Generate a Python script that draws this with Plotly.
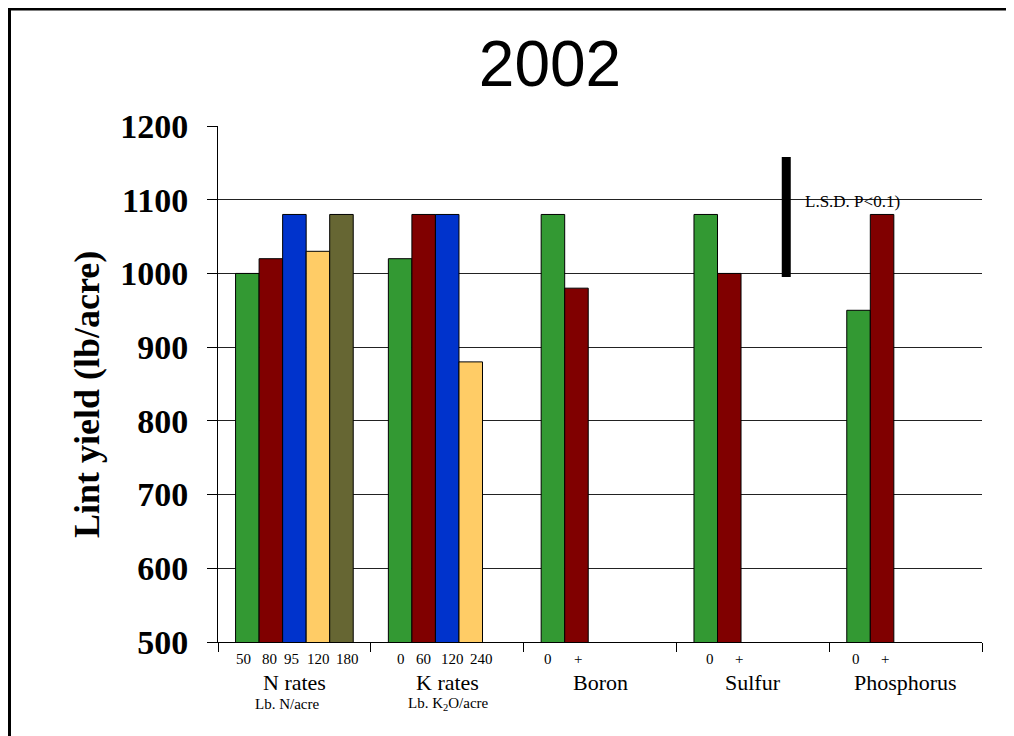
import plotly.graph_objects as go

categories = ["N rates", "K rates", "Boron", "Sulfur", "Phosphorus"]
series_names = ["Rate 1", "Rate 2", "Rate 3", "Rate 4", "Rate 5"]
series1 = [1000, 1020, 1080, 1080, 950]
series2 = [1020, 1080, 980, 1000, 1080]
series3 = [1080, 1080, None, None, None]
series4 = [1030, 880, None, None, None]
series5 = [1080, None, None, None, None]
colors = ["#339933", "#800000", "#0033CC", "#FFCC66", "#666633"]

rate_labels = ["50", "80", "95", "120", "180", "0", "60", "120", "240",
               "0", "+", "0", "+", "0", "+"]
sub_labels = ["Lb. N/acre", "Lb. K<sub>2</sub>O/acre"]
lsd_low, lsd_high = 995, 1158
lsd_label = "L.S.D. P<0.1)"
title_text = "2002"
y_title = "Lint yield (lb/acre)"

# label positions (category index units)
rate_label_x = [-0.33, -0.16, -0.016, 0.16, 0.35, 0.696, 0.846, 1.036, 1.225,
                1.657, 1.853, 2.722, 2.912, 3.676, 3.866]
cat_label_x = [0.003, 1.0, 2.0, 3.0, 4.0]
sub_label_x = [-0.05, 1.01]

serif = "Liberation Serif"

fig = go.Figure()
for name, vals, col in zip(series_names, [series1, series2, series3, series4, series5], colors):
    fig.add_trace(go.Bar(x=categories, y=vals, name=name, marker_color=col,
                         marker_line_color="black", marker_line_width=1))

OFF = 8  # page body margin
W, H = 1006, 728
L, R, T, B = 218 - OFF, 32, 126 - OFF, 94
pw, ph = W - L - R, H - T - B

def py(page_pix):
    return (H - B - (page_pix - OFF)) / ph

def px(page_pix):
    return ((page_pix - OFF) - L) / pw

annotations = []
for lab, xx in zip(rate_labels, rate_label_x):
    annotations.append(dict(x=xx, y=py(659), xref="x", yref="paper", text=lab,
                            showarrow=False, xanchor="center", yanchor="middle",
                            font=dict(family=serif, size=15, color="black")))
for lab, xx in zip(categories, cat_label_x):
    annotations.append(dict(x=xx, y=py(682), xref="x", yref="paper", text=lab,
                            showarrow=False, xanchor="center", yanchor="middle",
                            font=dict(family=serif, size=22, color="black")))
for lab, xx in zip(sub_labels, sub_label_x):
    annotations.append(dict(x=xx, y=py(704), xref="x", yref="paper", text=lab,
                            showarrow=False, xanchor="center", yanchor="middle",
                            font=dict(family=serif, size=15, color="black")))
annotations.append(dict(x=3.33, y=1097, xref="x", yref="y", text=lsd_label,
                        showarrow=False, xanchor="left", yanchor="middle",
                        font=dict(family=serif, size=17, color="black")))
annotations.append(dict(x=px(87), y=py(395), xref="paper", yref="paper", text=y_title,
                        textangle=-90, showarrow=False, xanchor="center", yanchor="middle",
                        font=dict(family=serif, size=36, color="black", weight="bold")))

shapes = [
    dict(type="line", xref="x", yref="y", x0=3.219, x1=3.219, y0=lsd_low, y1=lsd_high,
         line=dict(color="black", width=9)),
    dict(type="line", xref="paper", yref="paper", x0=px(8.5), x1=px(1030),
         y0=py(9), y1=py(9), line=dict(color="black", width=3)),
    dict(type="line", xref="paper", yref="paper", x0=px(9.5), x1=px(9.5),
         y0=py(8), y1=py(760), line=dict(color="black", width=3)),
]

fig.update_layout(
    width=W, height=H,
    margin=dict(l=L, r=R, t=T, b=B, pad=0),
    paper_bgcolor="white", plot_bgcolor="white",
    barmode="group", bargap=0.23, bargroupgap=0,
    showlegend=False,
    title=dict(text=title_text, x=px(550), xref="paper", xanchor="center",
               y=1 - (64 - OFF) / H, yref="container", yanchor="middle",
               font=dict(family="Liberation Sans", size=64, color="black")),
    xaxis=dict(type="category", range=[-0.5, 4.5], showticklabels=False,
               ticks="outside", tickson="boundaries", ticklen=9, tickcolor="black",
               tickwidth=1, showline=True, linecolor="black", linewidth=1,
               showgrid=False, zeroline=False),
    yaxis=dict(range=[500, 1200], dtick=100, tick0=500, ticks="outside", ticklen=10,
               tickcolor="black", tickwidth=1, showline=True, linecolor="black",
               linewidth=1, showgrid=True, gridcolor="#222222", gridwidth=1,
               zeroline=False, ticklabelstandoff=12,
               tickfont=dict(family=serif, size=34, color="black", weight="bold")),
    annotations=annotations,
    shapes=shapes,
)

fig.write_html("out.html")
